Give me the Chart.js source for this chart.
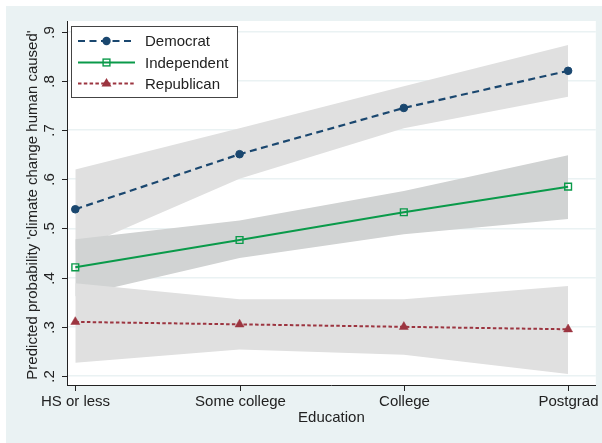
<!DOCTYPE html>
<html>
<head>
<meta charset="utf-8">
<script src="https://cdn.jsdelivr.net/npm/chart.js@4/dist/chart.umd.min.js"></script>
<style>
  html, body { margin: 0; padding: 0; background: #fff; }
  #wrap { width: 602px; height: 443px; }
</style>
</head>
<body>
<div id="wrap"><canvas id="c" width="602" height="443"></canvas></div>
<script>
// education levels on the x axis
const educCats = ['HS or less', 'Some college', 'College', 'Postgrad'];
const educX = [1, 2, 3, 4];
const yTicks = [0.2, 0.3, 0.4, 0.5, 0.6, 0.7, 0.8, 0.9];
const yTickLabels = ['.2', '.3', '.4', '.5', '.6', '.7', '.8', '.9'];

// predicted probabilities with 95% CI
const demProb = [0.539, 0.651, 0.745, 0.8205];
const demLo   = [0.456, 0.601, 0.7035, 0.768];
const demHi   = [0.620, 0.7035, 0.789, 0.873];
const indProb = [0.421, 0.4765, 0.533, 0.585];
const indLo   = [0.362, 0.440, 0.488, 0.519];
const indHi   = [0.478, 0.516, 0.576, 0.649];
const repProb = [0.310, 0.305, 0.300, 0.295];
const repLo   = [0.227, 0.254, 0.243, 0.204];
const repHi   = [0.3885, 0.356, 0.356, 0.383];

const NAVY = '#1a476f', GREEN = '#0a9a4a', MAROON = '#9c3540';
const BAND_LIGHT = '#e0e0e0', BAND_DARK = '#d1d3d3';
const BG = '#eaf2f3';
const FONT = '15px "Liberation Sans", Arial, sans-serif';

const pts = arr => arr.map((v, i) => ({ x: educX[i], y: v }));

function band(hi, lo, color, order) {
  return [
    { data: pts(hi), fill: '+1', backgroundColor: color, borderWidth: 0, pointRadius: 0, order },
    { data: pts(lo), fill: false, borderWidth: 0, pointRadius: 0, order }
  ];
}

const series = [
  { label: 'Democrat', data: pts(demProb), borderColor: NAVY, borderWidth: 2.2, borderDash: [7, 4.5],
    pointStyle: 'circle', pointRadius: 3.8, pointBackgroundColor: NAVY, pointBorderColor: NAVY, pointBorderWidth: 1, order: 0 },
  { label: 'Independent', data: pts(indProb), borderColor: GREEN, borderWidth: 2,
    pointStyle: 'rect', pointRadius: 4.8, pointBackgroundColor: 'rgba(0,0,0,0)', pointBorderColor: GREEN, pointBorderWidth: 1.4, order: 0 },
  { label: 'Republican', data: pts(repProb), borderColor: MAROON, borderWidth: 2, borderDash: [3.5, 2.3],
    pointStyle: 'triangle', pointRadius: 5.2, pointBackgroundColor: MAROON, pointBorderColor: MAROON, pointBorderWidth: 0.5, order: 0 }
];
series.forEach(s => { s.fill = false; s.tension = 0; });

function marker(ctx, style, x, y) {
  ctx.save();
  ctx.setLineDash([]);
  if (style === 'circle') {
    ctx.fillStyle = NAVY;
    ctx.beginPath(); ctx.arc(x, y, 4.2, 0, Math.PI * 2); ctx.fill();
  } else if (style === 'rect') {
    ctx.strokeStyle = GREEN; ctx.lineWidth = 1.4;
    ctx.strokeRect(x - 3.4, y - 3.4, 6.8, 6.8);
  } else {
    ctx.fillStyle = MAROON;
    ctx.beginPath();
    ctx.moveTo(x, y - 5.6); ctx.lineTo(x + 5, y + 3); ctx.lineTo(x - 5, y + 3);
    ctx.closePath(); ctx.fill();
  }
  ctx.restore();
}

const decor = {
  id: 'decor',
  beforeDraw(chart) {
    const ctx = chart.ctx, a = chart.chartArea;
    ctx.save();
    ctx.fillStyle = '#fff'; ctx.fillRect(0, 0, 602, 443);
    ctx.fillStyle = BG; ctx.fillRect(6, 6, 596, 437);
    ctx.fillStyle = '#fff'; ctx.fillRect(a.left, a.top, a.right - a.left, a.bottom - a.top);
    ctx.restore();
  },
  afterDraw(chart) {
    const ctx = chart.ctx, a = chart.chartArea;
    const xs = chart.scales.x, ys = chart.scales.y;
    ctx.save();
    ctx.strokeStyle = '#222'; ctx.lineWidth = 1;
    ctx.fillStyle = '#222'; ctx.font = FONT;
    // y ticks + rotated labels
    yTicks.forEach((v, i) => {
      const py = Math.round(ys.getPixelForValue(v)) + 0.5;
      ctx.beginPath(); ctx.moveTo(a.left - 5, py); ctx.lineTo(a.left, py); ctx.stroke();
      ctx.save();
      ctx.translate(53.5, py); ctx.rotate(-Math.PI / 2);
      ctx.textAlign = 'center'; ctx.textBaseline = 'alphabetic';
      ctx.fillText(yTickLabels[i], 0, 0);
      ctx.restore();
    });
    // x ticks + labels
    educX.forEach((v, i) => {
      const px = Math.round(xs.getPixelForValue(v)) + 0.5;
      ctx.beginPath(); ctx.moveTo(px, a.bottom); ctx.lineTo(px, a.bottom + 6); ctx.stroke();
      ctx.textAlign = 'center'; ctx.textBaseline = 'alphabetic';
      ctx.fillText(educCats[i], px, 406);
    });
    // axis titles
    ctx.textAlign = 'center';
    ctx.fillText('Education', (a.left + a.right) / 2, 422);
    ctx.save();
    ctx.translate(37, 205); ctx.rotate(-Math.PI / 2);
    ctx.fillText("Predicted probability 'climate change human caused'", 0, 0);
    ctx.restore();

    // legend
    ctx.fillStyle = '#fff';
    ctx.fillRect(71.5, 26.5, 166, 71);
    ctx.strokeStyle = '#444'; ctx.lineWidth = 1;
    ctx.strokeRect(71.5, 26.5, 166, 71);
    const rows = [41, 62.5, 83.5];
    series.forEach((s, i) => {
      const y = rows[i];
      ctx.save();
      ctx.strokeStyle = s.borderColor; ctx.lineWidth = s.borderWidth;
      ctx.setLineDash(s.borderDash || []);
      ctx.beginPath(); ctx.moveTo(78, y); ctx.lineTo(135, y); ctx.stroke();
      ctx.restore();
      marker(ctx, s.pointStyle, 106.5, y);
      ctx.fillStyle = '#222'; ctx.textAlign = 'left'; ctx.textBaseline = 'alphabetic';
      ctx.fillText(s.label, 145, y + 5);
    });
    ctx.restore();
  }
};

new Chart(document.getElementById('c'), {
  type: 'line',
  data: {
    datasets: [
      ...band(demHi, demLo, BAND_LIGHT, 30),
      ...band(indHi, indLo, BAND_DARK, 20),
      ...band(repHi, repLo, BAND_LIGHT, 10),
      ...series
    ]
  },
  options: {
    responsive: false,
    animation: false,
    layout: { padding: { left: 67, right: 6, top: 21, bottom: 58 } },
    plugins: { legend: { display: false }, tooltip: { enabled: false } },
    scales: {
      x: {
        type: 'linear', min: 0.9495, max: 4.1686,
        afterBuildTicks: s => { s.ticks = educX.map(v => ({ value: v })); },
        grid: { display: false, drawTicks: false },
        border: { display: true, color: '#222', width: 1 },
        ticks: { display: false }
      },
      y: {
        type: 'linear', min: 0.1817, max: 0.9218,
        afterBuildTicks: s => { s.ticks = yTicks.map(v => ({ value: v })); },
        grid: { color: BG, lineWidth: 1.6, drawTicks: false },
        border: { display: true, color: '#222', width: 1 },
        ticks: { display: false }
      }
    }
  },
  plugins: [decor]
});
</script>
</body>
</html>
